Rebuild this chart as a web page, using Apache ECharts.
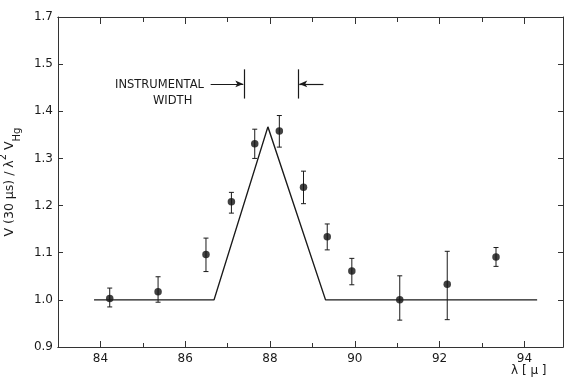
<!DOCTYPE html>
<html>
<head>
<meta charset="utf-8">
<script src="https://cdn.jsdelivr.net/npm/echarts@6/dist/echarts.min.js"></script>
<style>
  html, body { margin: 0; padding: 0; background: #fff; }
  #chart { width: 565px; height: 384px; }
</style>
</head>
<body>
<div id="chart"></div>
<script>
// measured points (wavelength in micron, normalised signal)
const pointX = [84.22, 85.36, 86.49, 87.09, 87.64, 88.22, 88.79, 89.35, 89.93, 91.06, 92.18, 93.33];
const pointY = [1.003, 1.017, 1.096, 1.208, 1.331, 1.358, 1.239, 1.134, 1.061, 1.0, 1.033, 1.091];
const errLow = [0.985, 0.995, 1.060, 1.184, 1.300, 1.324, 1.204, 1.106, 1.032, 0.957, 0.958, 1.071];
const errHigh = [1.025, 1.049, 1.131, 1.228, 1.362, 1.391, 1.273, 1.161, 1.088, 1.051, 1.103, 1.111];

// instrumental profile (baseline + triangle)
const profileX = [83.85, 86.68, 87.95, 89.31, 94.3];
const profileY = [1.0, 1.0, 1.367, 1.0, 1.0];

// "instrumental width" marker
const widthLeft = 87.40;
const widthRight = 88.66;

const xMajorTicks = [84, 86, 88, 90, 92, 94];
const xMinorTicks = [85, 87, 89, 91, 93];
const yTickLabels = ['0.9', '1.0', '1.1', '1.2', '1.3', '1.4', '1.5', '1.7'];

const ink = '#1a1a1a';
const font = 'DejaVu Sans';

const myChart = echarts.init(document.getElementById('chart'));

const baseX = {
  type: 'value', min: 83, max: 94.91, gridIndex: 0,
  axisLine: { show: true, lineStyle: { color: '#333', width: 1 } },
  splitLine: { show: false },
  axisLabel: { show: false },
};

const option = {
  animation: false,
  backgroundColor: '#fff',
  grid: { left: 58, right: 2, top: 17, bottom: 37, containLabel: false, outerBoundsMode: 'none' },
  xAxis: [
    Object.assign({}, baseX, {
      position: 'bottom',
      axisTick: { inside: true, length: 6, lineStyle: { color: '#333' }, customValues: xMajorTicks },
      axisLabel: { show: true, customValues: xMajorTicks, color: ink, fontFamily: font, fontSize: 12, margin: 6 },
    }),
    Object.assign({}, baseX, {
      position: 'bottom',
      axisTick: { inside: true, length: 4, lineStyle: { color: '#333' }, customValues: xMinorTicks },
    }),
    Object.assign({}, baseX, {
      position: 'top',
      axisTick: { inside: true, length: 7, lineStyle: { color: '#333' }, customValues: xMajorTicks },
    }),
    Object.assign({}, baseX, {
      position: 'top',
      axisTick: { inside: true, length: 5, lineStyle: { color: '#333' }, customValues: xMinorTicks },
    }),
  ],
  yAxis: [
    {
      type: 'value', min: 0.9, max: 1.6, interval: 0.1, position: 'left',
      axisLine: { show: true, lineStyle: { color: '#333', width: 1 } },
      axisTick: { show: true, inside: true, length: 5, lineStyle: { color: '#333' } },
      splitLine: { show: false },
      axisLabel: {
        color: ink, fontFamily: font, fontSize: 12, margin: 5,
        formatter: (v) => yTickLabels[Math.round((v - 0.9) * 10)] || ''
      },
      name: '{a|V (30 μs) / λ}{sup|2}{a| V}{sub|Hg}',
      nameLocation: 'middle',
      nameGap: 36,
      nameRotate: 90,
      nameTextStyle: {
        color: ink, fontFamily: font,
        rich: {
          a: { fontSize: 12.5, fontFamily: font, color: ink, lineHeight: 24, verticalAlign: 'middle' },
          sup: { fontSize: 10, fontFamily: font, color: ink, lineHeight: 24, verticalAlign: 'top' },
          sub: { fontSize: 10, fontFamily: font, color: ink, lineHeight: 24, verticalAlign: 'bottom' },
        }
      },
    },
    {
      type: 'value', min: 0.9, max: 1.6, interval: 0.1, position: 'right',
      axisLine: { show: true, lineStyle: { color: '#333', width: 1 } },
      axisTick: { show: true, inside: true, length: 5, lineStyle: { color: '#333' } },
      splitLine: { show: false },
      axisLabel: { show: false },
    }
  ],
  graphic: [
    { type: 'text', left: 115, top: 79, style: { text: 'INSTRUMENTAL', font: '11.5px "DejaVu Sans"', fill: ink } },
    { type: 'text', left: 153, top: 95, style: { text: 'WIDTH', font: '11.5px "DejaVu Sans"', fill: ink } },
    { type: 'text', left: 511, top: 365, style: { text: 'λ [ μ ]', font: '12px "DejaVu Sans"', fill: ink } },
  ],
  series: [
    {
      name: 'instrumental profile',
      type: 'line',
      data: profileX.map((x, i) => [x, profileY[i]]),
      showSymbol: false,
      symbol: 'none',
      lineStyle: { color: ink, width: 1.4 },
      silent: true,
      markLine: {
        silent: true,
        symbol: 'none',
        label: { show: false },
        lineStyle: { color: ink, width: 1.2, type: 'solid' },
        data: [
          [{ coord: [86.60, 1.458], symbol: 'none' }, { coord: [widthLeft - 0.03, 1.458], symbol: 'arrow', symbolSize: [5, 8] }],
          [{ coord: [widthLeft, 1.427] }, { coord: [widthLeft, 1.489] }],
          [{ coord: [widthRight, 1.427] }, { coord: [widthRight, 1.489] }],
          [{ coord: [89.26, 1.458], symbol: 'none' }, { coord: [widthRight + 0.03, 1.458], symbol: 'arrow', symbolSize: [5, 8] }],
        ]
      }
    },
    {
      name: 'error bars',
      type: 'custom',
      data: pointX.map((x, i) => [x, errLow[i], errHigh[i]]),
      encode: { x: 0, y: [1, 2] },
      silent: true,
      renderItem: (params, api) => {
        const x = api.value(0);
        const lo = api.coord([x, api.value(1)]);
        const hi = api.coord([x, api.value(2)]);
        const w = 2.5;
        const st = { stroke: ink, lineWidth: 1 };
        return {
          type: 'group',
          children: [
            { type: 'line', shape: { x1: lo[0], y1: lo[1], x2: hi[0], y2: hi[1] }, style: st },
            { type: 'line', shape: { x1: hi[0] - w, y1: hi[1], x2: hi[0] + w, y2: hi[1] }, style: st },
            { type: 'line', shape: { x1: lo[0] - w, y1: lo[1], x2: lo[0] + w, y2: lo[1] }, style: st },
          ]
        };
      }
    },
    {
      name: 'measured',
      type: 'scatter',
      data: pointX.map((x, i) => [x, pointY[i]]),
      symbolSize: 7.5,
      itemStyle: { color: '#111' },
      silent: true,
    }
  ]
};

myChart.setOption(option);
</script>
</body>
</html>
